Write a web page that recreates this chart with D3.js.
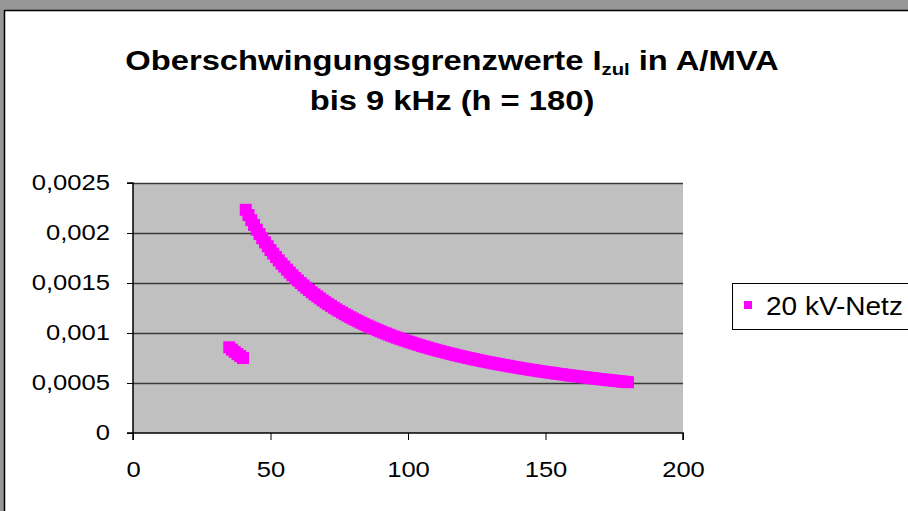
<!DOCTYPE html>
<html><head><meta charset="utf-8">
<script src="https://cdn.jsdelivr.net/npm/d3@7/dist/d3.min.js"></script>
<style>
html,body{margin:0;padding:0;background:#969696;}
svg{display:block;}
text{font-family:"Liberation Sans",Arial,sans-serif;}
</style></head><body>
<svg id="chart" width="908" height="511"></svg>
<script>
// ---- data ----
const titleLine1 = "Oberschwingungsgrenzwerte ";
const titleSub = "zul";
const titleLine1b = " in A/MVA";
const titleLine2 = "bis 9 kHz (h = 180)";
const seriesName = "20 kV-Netz";
const xTicks = [0, 50, 100, 150, 200];
const yTicks = [0, 0.0005, 0.001, 0.0015, 0.002, 0.0025];
const yTickLabels = ["0", "0,0005", "0,001", "0,0015", "0,002", "0,0025"];
// low segment (h = 35..40)
const ordersLow = [35, 36, 37, 38, 39, 40];
const valuesLow = [857e-6, 833e-6, 811e-6, 789e-6, 769e-6, 750e-6];
// main curve (h = 41..180)
const ordersMain = d3.range(41, 181);
const valuesMain = [
2232e-6,2179e-6,2128e-6,2080e-6,2033e-6,1989e-6,1947e-6,1906e-6,1867e-6,
1830e-6,1794e-6,1760e-6,1726e-6,1694e-6,1664e-6,1634e-6,1605e-6,1578e-6,1551e-6,
1525e-6,1500e-6,1476e-6,1452e-6,1430e-6,1408e-6,1386e-6,1366e-6,1346e-6,1326e-6,
1307e-6,1289e-6,1271e-6,1253e-6,1236e-6,1220e-6,1204e-6,1188e-6,1173e-6,1158e-6,
1144e-6,1130e-6,1116e-6,1102e-6,1089e-6,1076e-6,1064e-6,1052e-6,1040e-6,1028e-6,
1017e-6,1005e-6,995e-6,984e-6,973e-6,963e-6,953e-6,943e-6,934e-6,924e-6,
915e-6,906e-6,897e-6,888e-6,880e-6,871e-6,863e-6,855e-6,847e-6,839e-6,
832e-6,824e-6,817e-6,810e-6,803e-6,796e-6,789e-6,782e-6,775e-6,769e-6,
763e-6,756e-6,750e-6,744e-6,738e-6,732e-6,726e-6,720e-6,715e-6,709e-6,
704e-6,698e-6,693e-6,688e-6,683e-6,678e-6,673e-6,668e-6,663e-6,658e-6,
654e-6,649e-6,644e-6,640e-6,635e-6,631e-6,627e-6,622e-6,618e-6,614e-6,
610e-6,606e-6,602e-6,598e-6,594e-6,590e-6,587e-6,583e-6,579e-6,575e-6,
572e-6,568e-6,565e-6,561e-6,558e-6,555e-6,551e-6,548e-6,545e-6,541e-6,
538e-6,535e-6,532e-6,529e-6,526e-6,523e-6,520e-6,517e-6,514e-6,511e-6,
508e-6];

const points = ordersLow.map((h,i)=>({h, v:valuesLow[i]}))
  .concat(ordersMain.map((h,i)=>({h, v:valuesMain[i]})));

// ---- layout ----
const svg = d3.select("#chart");
const W = 908, H = 511;
const plot = {x0:133, x1:683, y0:183, y1:433};
const color = "#FF00FF";
const mk = 12;
const SX = 1.19; // horizontal stretch of the lettering

function stretch(sel, ax, sx){
  sel.attr("transform", `translate(${ax},0) scale(${sx},1) translate(${-ax},0)`);
}

// chart area (white, black border)
svg.append("rect").attr("x",4.5).attr("y",10.5).attr("width",W+10).attr("height",H+10)
  .attr("fill","#fff").attr("stroke","#000").attr("stroke-width",1.5);

const x = d3.scaleLinear().domain([0,200]).range([plot.x0, plot.x1]);
const y = d3.scaleLinear().domain([0,0.0025]).range([plot.y1, plot.y0]);

// plot area
svg.append("rect").attr("x",plot.x0).attr("y",plot.y0)
  .attr("width",plot.x1-plot.x0).attr("height",plot.y1-plot.y0).attr("fill","#C0C0C0");

// gridlines
svg.append("g").selectAll("line").data(yTicks.slice(1)).join("line")
  .attr("x1",plot.x0).attr("x2",plot.x1)
  .attr("y1",d=>Math.round(y(d))+0.5).attr("y2",d=>Math.round(y(d))+0.5)
  .attr("stroke","#3a3a3a").attr("stroke-width",1.5);

// markers
svg.append("g").selectAll("rect").data(points).join("rect")
  .attr("x",d=>x(d.h)-mk/2).attr("y",d=>y(d.v)-mk/2)
  .attr("width",mk).attr("height",mk).attr("fill",color);

// axes
const yAxis = d3.axisLeft(y).tickValues(yTicks).tickFormat((d,i)=>yTickLabels[i]).tickSize(6).tickPadding(17);
const gy = svg.append("g").attr("transform",`translate(${plot.x0},0)`).call(yAxis);
const xAxis = d3.axisBottom(x).tickValues(xTicks).tickFormat(d3.format("d")).tickSize(7).tickPadding(22);
const gx = svg.append("g").attr("transform",`translate(0,${plot.y1})`).call(xAxis);
[gy,gx].forEach(g=>{
  g.select(".domain").attr("stroke","#000").attr("stroke-width",1.5);
  g.selectAll(".tick line").attr("stroke","#000").attr("stroke-width",1);
  g.selectAll("text").attr("font-size",21.5).attr("fill","#000")
    .attr("font-family","'Liberation Sans',Arial,sans-serif");
});
gy.selectAll(".tick text").each(function(){ stretch(d3.select(this), -23, SX); });
gx.selectAll(".tick text").each(function(){ stretch(d3.select(this), 0, SX); });
gy.select(".domain").attr("d",`M-6,${plot.y0}H0V${plot.y1}H-6`);
gx.select(".domain").attr("d",`M${plot.x0},7V0H${plot.x1}V7`);

// title
const tcx = 452;
const t1 = svg.append("text").attr("x",tcx).attr("y",70).attr("text-anchor","middle")
  .attr("font-size",27.5).attr("font-weight","bold").attr("fill","#000");
t1.append("tspan").text(titleLine1 + "I");
t1.append("tspan").attr("font-size",17).attr("dy",5).text(titleSub);
t1.append("tspan").attr("dy",-5).text(titleLine1b);
stretch(t1, tcx, SX);
const t2 = svg.append("text").attr("x",tcx).attr("y",110).attr("text-anchor","middle")
  .attr("font-size",27.5).attr("font-weight","bold").attr("fill","#000").text(titleLine2);
stretch(t2, tcx, SX);

// legend
const lg = svg.append("g");
lg.append("rect").attr("x",732.5).attr("y",283.5).attr("width",200).attr("height",46)
  .attr("fill","#fff").attr("stroke","#000").attr("stroke-width",1);
lg.append("rect").attr("x",744).attr("y",301).attr("width",8).attr("height",8).attr("fill",color);
const lt = lg.append("text").attr("x",766).attr("y",315).attr("font-size",25).attr("fill","#000").text(seriesName);
stretch(lt, 766, 1.12);
</script>
</body></html>
